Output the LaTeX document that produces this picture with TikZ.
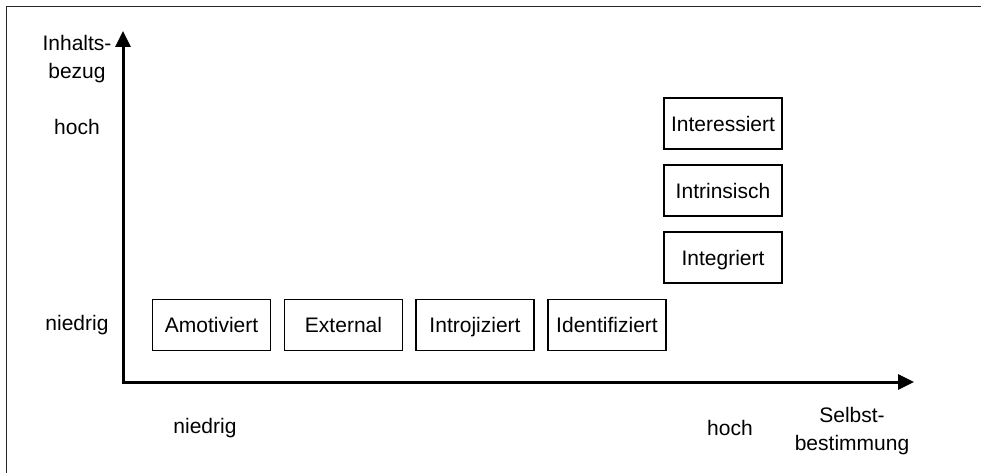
\documentclass[tikz,border=0pt]{standalone}
\usepackage{fontspec}
\setmainfont{Liberation Sans}
\usetikzlibrary{arrows.meta}
\begin{document}
\begin{tikzpicture}[x=1pt,y=-1pt,
  box/.style={draw,line width=1.6pt,minimum width=118pt,minimum height=51pt,inner sep=0pt,text height=15.5pt,text depth=0pt,font=\fontsize{21}{25}\selectfont},
  lbl/.style={align=center,inner sep=0pt,font=\fontsize{21}{27.5}\selectfont},
  frame/.style={line width=1.3pt,draw=black!85},
  axis/.style={line width=3pt,-{Triangle[length=16pt,width=15pt]}}]
\useasboundingbox (0,0) rectangle (981,473);
\coordinate (FBL) at (6.5,474);
\coordinate (FTL) at (6.5,6.5);
\coordinate (FTR) at (982,6.5);
\draw[frame] (FBL) -- (FTL) -- (FTR);
\coordinate (O) at (123,382);
\coordinate (Ytop) at (123,31);
\coordinate (Xend) at (914,382);
\draw[axis] ([yshift=-1.5pt]O) -- (Ytop);
\draw[axis] ([xshift=-1.5pt]O) -- (Xend);
\node[box] (amo) at (211.5,325) {Amotiviert};
\node[box] (ext) at (343.5,325) {External};
\node[box] (intro) at (475,325) {Introjiziert};
\node[box] (ident) at (607,325) {Identifiziert};
\node[box] (inter) at (723,123.5) {Interessiert};
\node[box] (intr) at (723,190.5) {Intrinsisch};
\node[box] (integ) at (723,257.5) {Integriert};
\node[lbl] (ylab) at (77,59) {Inhalts-\\bezug};
\node[lbl] (yhoch) at (77,127) {hoch};
\node[lbl] (yniedrig) at (77,325) {niedrig};
\node[lbl] (xniedrig) at (205,428) {niedrig};
\node[lbl] (xhoch) at (730,428) {hoch};
\node[lbl] (xlab) at (852,431) {Selbst-\\bestimmung};
\end{tikzpicture}
\end{document}
